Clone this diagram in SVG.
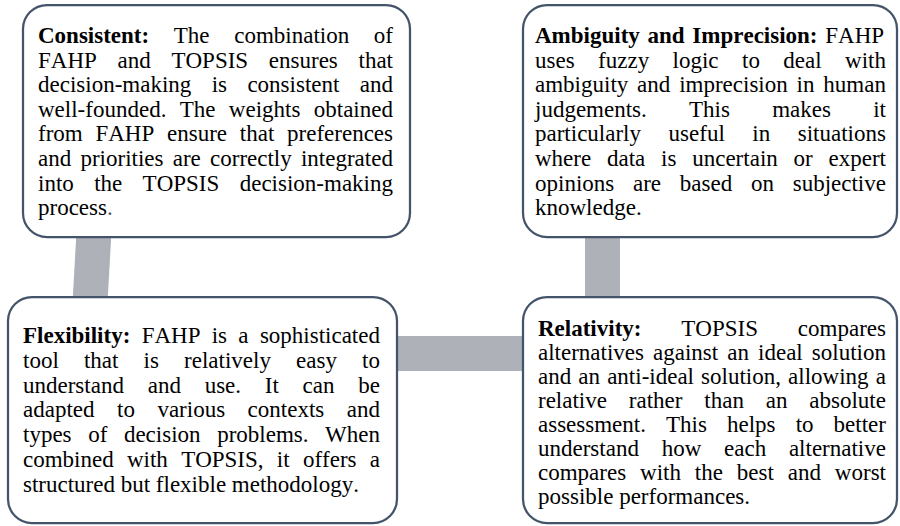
<svg xmlns="http://www.w3.org/2000/svg" width="900" height="526" viewBox="0 0 900 526">
  <style>
    .box { fill: #ffffff; stroke: #44546A; stroke-width: 2.25; }
    .bar { fill: #AEB1B8; }
    text { font-family: "Liberation Serif", "Times New Roman", serif; font-size: 23px; fill: #000000; font-kerning: none; }
    .b { font-weight: bold; }
  </style>
  <rect width="900" height="526" fill="#ffffff"/>

  <!-- grey connector bars, drawn under the boxes -->
  <g id="connectors">
    <polygon class="bar" points="76.6,230 111.6,230 107.35,305 72.35,305"/>
    <rect class="bar" x="585" y="230" width="35" height="75"/>
    <rect class="bar" x="390" y="336" width="140" height="35"/>
  </g>

  <g id="consistent">
    <rect class="box" x="23" y="5" width="387" height="232" rx="24" ry="24"/>
    <text x="38" y="43" word-spacing="18.89"><tspan class="b">Consistent:</tspan> The combination of</text>
    <text x="38" y="67.6" word-spacing="14.96">FAHP and TOPSIS ensures that</text>
    <text x="38" y="92.2" word-spacing="14.63">decision-making is consistent and</text>
    <text x="38" y="116.8" word-spacing="7.61">well-founded. The weights obtained</text>
    <text x="38" y="141.4" word-spacing="7.0">from FAHP ensure that preferences</text>
    <text x="38" y="166" word-spacing="3.48">and priorities are correctly integrated</text>
    <text x="38" y="190.6" word-spacing="14.62">into the TOPSIS decision-making</text>
    <text x="38" y="215.2">process<tspan fill="#44546A">.</tspan></text>
  </g>

  <g id="ambiguity">
    <rect class="box" x="523" y="5" width="374" height="232" rx="24" ry="24"/>
    <text x="535" y="43" word-spacing="1.97"><tspan class="b">Ambiguity and Imprecision:</tspan> FAHP</text>
    <text x="535" y="67.6" word-spacing="17.69">uses fuzzy logic to deal with</text>
    <text x="535" y="92.2" word-spacing="3.10">ambiguity and imprecision in human</text>
    <text x="535" y="116.8" word-spacing="36.5">judgements. This makes it</text>
    <text x="535" y="141.4" word-spacing="21.81">particularly useful in situations</text>
    <text x="535" y="166" word-spacing="10.04">where data is uncertain or expert</text>
    <text x="535" y="190.6" word-spacing="13.01">opinions are based on subjective</text>
    <text x="535" y="215.2">knowledge.</text>
  </g>

  <g id="flexibility">
    <rect class="box" x="8" y="297" width="389" height="226" rx="24" ry="24"/>
    <text x="23" y="343" word-spacing="5.55"><tspan class="b">Flexibility:</tspan> FAHP is a sophisticated</text>
    <text x="23" y="367.8" word-spacing="19.40">tool that is relatively easy to</text>
    <text x="23" y="392.6" word-spacing="18.0">understand and use. It can be</text>
    <text x="23" y="417.4" word-spacing="16.75">adapted to various contexts and</text>
    <text x="23" y="442.2" word-spacing="10.84">types of decision problems. When</text>
    <text x="23" y="467" word-spacing="7.52">combined with TOPSIS, it offers a</text>
    <text x="23" y="491.8">structured but flexible methodology.</text>
  </g>

  <g id="relativity">
    <rect class="box" x="523" y="297" width="374" height="226" rx="24" ry="24"/>
    <text x="538" y="336" word-spacing="34.1"><tspan class="b">Relativity:</tspan> TOPSIS compares</text>
    <text x="538" y="360" word-spacing="3.31">alternatives against an ideal solution</text>
    <text x="538" y="384" word-spacing="1.37">and an anti-ideal solution, allowing a</text>
    <text x="538" y="408" word-spacing="16.10">relative rather than an absolute</text>
    <text x="538" y="432" word-spacing="14.33">assessment. This helps to better</text>
    <text x="538" y="456" word-spacing="17.0">understand how each alternative</text>
    <text x="538" y="480" word-spacing="8.15">compares with the best and worst</text>
    <text x="538" y="504">possible performances.</text>
  </g>
</svg>
